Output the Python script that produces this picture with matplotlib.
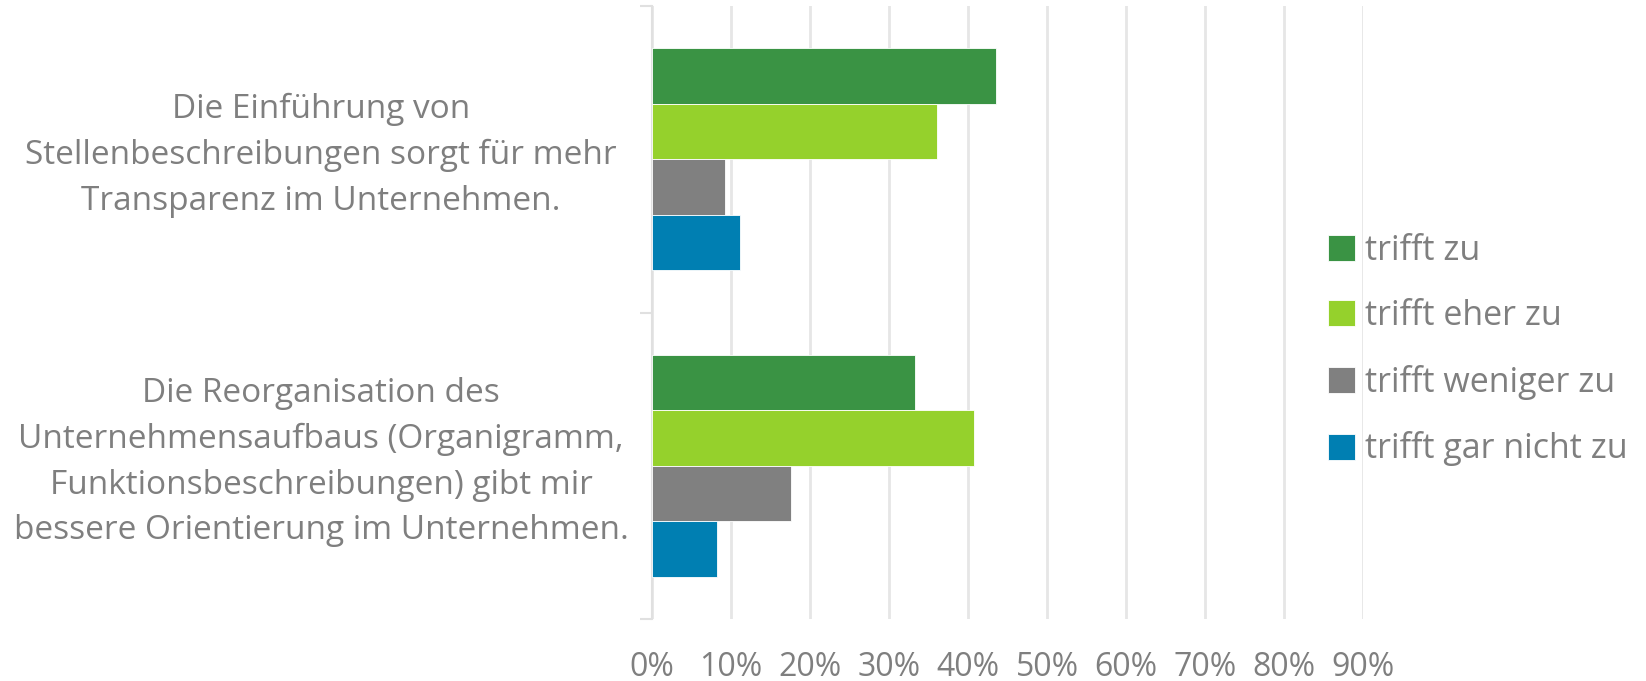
import numpy as np
import matplotlib
matplotlib.use("Agg")
import matplotlib.pyplot as plt
import matplotlib.transforms as mtransforms
from matplotlib.ticker import FixedLocator

# survey data (share of answers)
statements = [
    "Die Einführung von\nStellenbeschreibungen sorgt für mehr\nTransparenz im Unternehmen.",
    "Die Reorganisation des\nUnternehmensaufbaus (Organigramm,\nFunktionsbeschreibungen) gibt mir\nbessere Orientierung im Unternehmen.",
]
answers = ["trifft zu", "trifft eher zu", "trifft weniger zu", "trifft gar nicht zu"]
trifft_zu = [0.436, 0.333]
trifft_eher_zu = [0.361, 0.408]
trifft_weniger_zu = [0.092, 0.176]
trifft_gar_nicht_zu = [0.111, 0.082]
colors = ["#3a9344", "#95d12c", "#808080", "#007fb2"]
xticks = [0, 0.1, 0.2, 0.3, 0.4, 0.5, 0.6, 0.7, 0.8, 0.9]

txt = "#7f7f7f"
plt.rcParams["font.family"] = ["Open Sans", "DejaVu Sans"]

fig = plt.figure(figsize=(16.46, 6.81), dpi=100)
ax = fig.add_axes([652 / 1646, 1 - 619 / 681, 711 / 1646, 613 / 681])

series = [trifft_zu, trifft_eher_zu, trifft_weniger_zu, trifft_gar_nicht_zu]
y = np.arange(len(statements))
h = 0.181
for i, (vals, name, c) in enumerate(zip(series, answers, colors)):
    ax.barh(y + (i - 1.5) * h, vals, height=h, color=c, label=name,
            edgecolor="white", linewidth=0.6, zorder=3)

ax.set_xlim(0, 0.9)
ax.set_ylim(1.5, -0.5)
ax.set_xticks(xticks)
ax.set_xticklabels(["%d%%" % round(v * 100) for v in xticks])
ax.set_yticks(y)
ax.set_yticklabels([])
ax.yaxis.set_minor_locator(FixedLocator([-0.5, 0.5, 1.5]))

# category labels, centred in the left margin and lifted a little
lift = mtransforms.ScaledTranslation(0, 0.038, fig.dpi_scale_trans)
trans = ax.get_yaxis_transform() + lift
for yi, s in zip(y, statements):
    ax.text(-0.4655, yi, s, transform=trans, ha="center", va="center",
            multialignment="center", linespacing=1.51, fontsize=24,
            color=txt)

ax.grid(axis="x", color="#e6e6e6", linewidth=2, zorder=0)
for s in ["top", "right", "bottom"]:
    ax.spines[s].set_visible(False)
ax.spines["left"].set_color("#e0e0e0")
ax.spines["left"].set_linewidth(1.5)

ax.tick_params(axis="x", length=0, pad=23, labelsize=23, labelcolor=txt)
ax.tick_params(axis="y", which="major", length=0)
ax.tick_params(axis="y", which="minor", length=9, width=1.5, color="#e0e0e0")

leg = ax.legend(loc="center left", bbox_to_anchor=(1328 / 1646, 331 / 681),
                bbox_transform=fig.transFigure, frameon=False, fontsize=24.5,
                labelcolor=txt, handlelength=0.8, handleheight=0.8,
                handletextpad=0.3, labelspacing=0.93, borderaxespad=0,
                borderpad=0)

fig.savefig("out.png", dpi=100)
